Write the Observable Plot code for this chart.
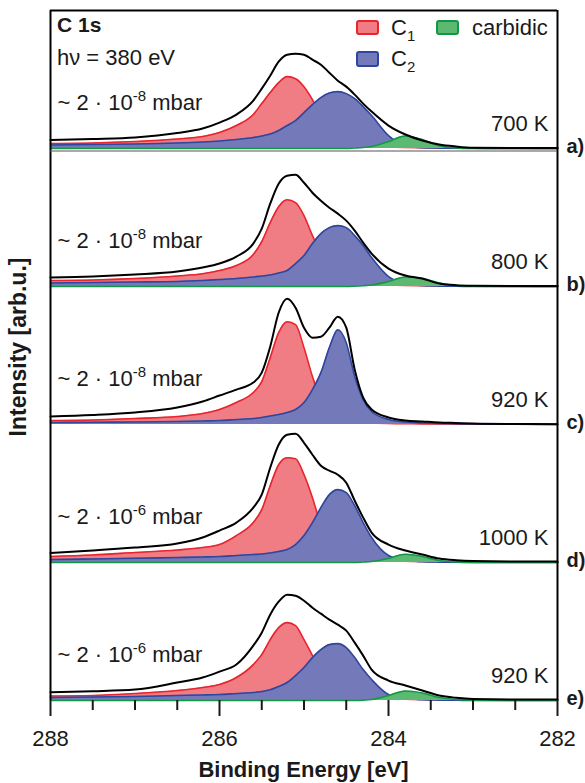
<!DOCTYPE html>
<html><head><meta charset="utf-8">
<script src="https://cdn.jsdelivr.net/npm/d3@7"></script>
<script src="https://cdn.jsdelivr.net/npm/@observablehq/plot@0.6"></script>
<style>
body{margin:0;background:#fff;}
#chart{position:relative;width:585px;height:783px;}
svg text{font-family:"Liberation Sans",Arial,sans-serif;}
</style>
</head><body><div id="chart"></div>
<script>
// ---- data (intensities in arbitrary units) ----
const energy = [288, 287.5, 287, 286.5, 286.2, 286.0, 285.8, 285.6, 285.5, 285.4, 285.3, 285.2, 285.1, 285.0, 284.9, 284.8, 284.7, 284.6, 284.5, 284.4, 284.3, 284.2, 284.0, 283.8, 283.6, 283.4, 283.2, 283.0, 282.5, 282];

const panels = ["a", "b", "c", "d", "e"];
const panelLabels = ["a)", "b)", "c)", "d)", "e)"];
const temperatures = ["700 K", "800 K", "920 K", "1000 K", "920 K"];
const pressures = ["~ 2 · 10^-8 mbar", "~ 2 · 10^-8 mbar", "~ 2 · 10^-8 mbar", "~ 2 · 10^-6 mbar", "~ 2 · 10^-6 mbar"];
const xTicksMajor = [288, 286, 284, 282];
const xTicksMinor = [287.5, 287, 286.5, 285.5, 285, 284.5, 283.5, 283, 282.5];
const legendNames = ["C1", "C2", "carbidic"];

// panel a) 700 K
const totalA = [8.5, 9.5, 11, 15.5, 20, 26, 34, 48, 60, 73, 87, 94, 95, 94, 89, 84, 76, 68, 62, 54, 45, 37, 23, 14, 8, 4, 2, 0.8, 0.5, 0.5];
const c1A    = [5, 5.5, 7, 9.5, 12, 16, 23, 34, 45, 56, 66, 72, 70, 62, 49, 33, 20, 11, 6, 3.5, 2.5, 2, 1.5, 1, 0.8, 0.6, 0.4, 0.3, 0.2, 0.1];
const c2A    = [3.5, 4, 4.5, 5.5, 6.5, 7.5, 9, 11, 12.5, 14.5, 18, 23, 28, 36, 44, 51, 55.5, 57, 55, 50, 42, 33, 13, 3, 0.8, 0.4, 0.2, 0.1, 0, 0];
const carbA  = [0, 0, 0, 0, 0, 0, 0, 0, 0, 0, 0, 0, 0, 0, 0, 0, 0, 0, 0, 0.5, 1, 2, 7, 12.5, 9, 2.8, 0.6, 0.2, 0, 0];

// panel b) 800 K
const totalB = [9, 10, 12, 15, 19, 23, 30, 43, 58, 83, 103, 111, 112, 104, 94, 86, 79, 73, 66, 56, 44, 33, 18, 11, 8, 3, 1.3, 0.8, 0.5, 0.5];
const c1B    = [6, 6.5, 8, 10.5, 12.7, 16, 21, 32, 45, 64, 80, 87, 84, 71, 51, 33, 19, 10, 5, 3, 2.5, 2, 1.5, 1, 0.8, 0.6, 0.4, 0.3, 0.2, 0.1];
const c2B    = [3.5, 4, 4.5, 5, 6, 7, 8, 9.5, 10.5, 11.5, 13.5, 16, 23, 31, 43, 53, 59, 61, 59, 51, 41, 29, 10, 3, 1, 0.4, 0.2, 0.1, 0, 0];
const carbB  = [0, 0, 0, 0, 0, 0, 0, 0, 0, 0, 0, 0, 0, 0, 0, 0, 0, 0, 0, 0.3, 0.8, 1.5, 5, 9.5, 8, 3.5, 1, 0.3, 0, 0];

// panel c) 920 K
const totalC = [8, 9.5, 12, 17, 23, 29, 35, 42, 52, 78, 112, 126, 117, 97, 87, 88, 97, 108, 97, 55, 27, 15, 7, 4, 3, 2, 1.5, 1, 0.5, 0.3];
const c1C    = [4, 4.5, 6, 8, 11, 15, 22, 32, 43, 67, 92, 103, 100, 77, 48, 25, 12, 6, 3, 2, 1.5, 1.3, 1, 0.8, 0.6, 0.5, 0.4, 0.3, 0.2, 0.1];
const c2C    = [2, 2.3, 2.5, 3, 3.5, 4, 5, 6, 7, 8.5, 10, 12, 15, 22, 35, 52, 77, 95, 82, 48, 25, 13, 5, 2.5, 1.5, 1, 0.7, 0.5, 0.3, 0.2];
const carbC  = null; // no carbidic component fitted

// panel d) 1000 K
const totalD = [9.5, 12, 15, 19, 25, 32, 40, 55, 68, 95, 118, 128, 129, 120, 108, 97, 92, 88, 80, 62, 45, 30, 18, 12, 8, 4, 2.3, 1.5, 1, 1];
const c1D    = [6, 7.5, 10, 12.5, 15, 18, 27, 40, 53, 77, 98, 105, 104, 88, 65, 38, 22, 12, 6, 3.5, 2.5, 2, 1.5, 1.2, 1, 0.8, 0.6, 0.5, 0.3, 0.2];
const c2D    = [3, 3.5, 4.2, 5, 5.5, 6, 7, 8, 8.5, 9.5, 11, 13, 18, 27, 40, 55, 68, 73, 70, 57, 40, 25, 7, 2, 0.8, 0.4, 0.2, 0.1, 0, 0];
const carbD  = [0, 0, 0, 0, 0, 0, 0, 0, 0, 0, 0, 0, 0, 0, 0, 0, 0, 0, 0, 0, 0.5, 1, 4, 8.3, 6, 2, 0.5, 0.1, 0, 0];

// panel e) 920 K
const totalE = [8.3, 9.3, 11, 18, 23, 29, 36, 55, 68, 86, 99, 106, 105, 100, 93, 87, 81, 76, 70, 58, 45, 31, 20, 15, 10, 5, 2.7, 1.5, 1, 1];
const c1E    = [4.5, 5, 7, 10, 13, 16, 23, 36, 46, 61, 73, 78, 75, 61, 45, 29, 17, 9, 5, 3, 2.5, 2, 1.5, 1.2, 1, 0.8, 0.6, 0.5, 0.3, 0.2];
const c2E    = [3, 3.5, 4, 5, 5.5, 6, 7, 8, 9, 10.7, 14, 18, 25, 33, 43, 51, 56, 57, 53, 43, 31, 21, 6, 2, 0.8, 0.4, 0.2, 0.1, 0, 0];
const carbE  = [0, 0, 0, 0, 0, 0, 0, 0, 0, 0, 0, 0, 0, 0, 0, 0, 0, 0, 0, 0, 0.3, 1, 5, 9.5, 7.5, 3, 1, 0.3, 0, 0];

// ---- build tables ----
const totals = [totalA, totalB, totalC, totalD, totalE];
const c1s = [c1A, c1B, c1C, c1D, c1E];
const c2s = [c2A, c2B, c2C, c2D, c2E];
const carbs = [carbA, carbB, carbC, carbD, carbE];

const rows = panels.flatMap((p, i) => energy.map((E, j) => ({
  panel: p, E,
  total: totals[i][j], c1: c1s[i][j], c2: c2s[i][j],
  carb: carbs[i] ? carbs[i][j] : null
})));
const carbRows = rows.filter(d => d.carb !== null);
const labelRows = panels.map((p, i) => ({panel: p, label: panelLabels[i], temp: temperatures[i], pressure: pressures[i]}));

const W = 585, H = 783, mTop = 9, mBottom = 82.5, mLeft = 50, mRight = 28;
const yMax = (H - mTop - mBottom) / panels.length;

const col = {
  c1Fill: "#f07c84", c1Stroke: "#e8242c",
  c2Fill: "#7479b9", c2Stroke: "#2f469d",
  cbFill: "#5bb971", cbStroke: "#129747"
};
const curve = "monotone-x";

const chart = Plot.plot({
  width: W, height: H,
  marginTop: mTop, marginBottom: mBottom, marginLeft: mLeft, marginRight: mRight,
  style: {fontFamily: "'Liberation Sans', Arial, sans-serif", color: "#1a1a1a", background: "white"},
  x: {domain: [288, 282]},
  y: {domain: [0, yMax], axis: null},
  fy: {domain: panels, padding: 0, axis: null},
  marks: [
    Plot.areaY(rows, {x: "E", y: "c1", fy: "panel", fill: col.c1Fill, curve}),
    Plot.lineY(rows, {x: "E", y: "c1", fy: "panel", stroke: col.c1Stroke, strokeWidth: 1.6, curve}),
    Plot.areaY(rows, {x: "E", y: "c2", fy: "panel", fill: col.c2Fill, curve}),
    Plot.lineY(rows, {x: "E", y: "c2", fy: "panel", stroke: col.c2Stroke, strokeWidth: 1.6, curve}),
    Plot.areaY(carbRows, {x: "E", y: "carb", fy: "panel", fill: col.cbFill, curve}),
    Plot.lineY(carbRows, {x: "E", y: "carb", fy: "panel", stroke: col.cbStroke, strokeWidth: 1.6, curve}),
    Plot.lineY(rows, {x: "E", y: "total", fy: "panel", stroke: "black", strokeWidth: 2, curve}),
    // frame
    Plot.ruleX([288, 282], {stroke: "black", strokeWidth: 2}),
    Plot.ruleY(labelRows, {fy: "panel", y: yMax, filter: d => d.panel === "a", stroke: "black", strokeWidth: 2}),
    Plot.ruleY(labelRows, {fy: "panel", y: 0, dy: 2.5, filter: d => d.panel === "a", stroke: "#555", strokeWidth: 1.2}),
    // texts
    Plot.text(labelRows, {fy: "panel", text: "pressure", frameAnchor: "bottom-left", dx: 7, dy: -38.5, textAnchor: "start", fontSize: 22}),
    Plot.text(labelRows, {fy: "panel", text: "temp", frameAnchor: "bottom-right", dx: -9, dy: -18, textAnchor: "end", fontSize: 22}),
    Plot.text(labelRows, {fy: "panel", text: "label", frameAnchor: "bottom-right", dx: 9, dy: 4, textAnchor: "start", fontSize: 20, fontWeight: "bold"}),
    // axes
    Plot.axisX(xTicksMinor, {anchor: "bottom", tickSize: 10, tickFormat: () => "", strokeWidth: 2, label: null}),
    Plot.axisX(xTicksMajor, {anchor: "bottom", tickSize: 16, tickPadding: 14, fontSize: 22, tickFormat: d => String(d), strokeWidth: 2, label: null})
  ]
});

document.getElementById("chart").appendChild(chart);
const svg = chart.tagName.toLowerCase() === "svg" ? chart : chart.querySelector("svg");
const NS = "http://www.w3.org/2000/svg";

// superscripts in pressure labels
svg.querySelectorAll("text").forEach(t => {
  const s = t.textContent;
  if (s.includes("^") && t.children.length === 0) {
    const m = s.match(/^(.*?)\^(\S+)(.*)$/);
    t.textContent = "";
    const a = document.createElementNS(NS, "tspan"); a.textContent = m[1];
    const b = document.createElementNS(NS, "tspan"); b.textContent = m[2];
    b.setAttribute("font-size", "15"); b.setAttribute("dy", "-9");
    const c = document.createElementNS(NS, "tspan"); c.textContent = m[3]; c.setAttribute("dy", "9");
    t.append(a, b, c);
  }
});

function addText(parent, str, attrs, subs) {
  const t = document.createElementNS(NS, "text");
  t.setAttribute("text-anchor", "start");
  for (const k in attrs) t.setAttribute(k, attrs[k]);
  t.textContent = str;
  if (subs) {
    const s = document.createElementNS(NS, "tspan");
    s.textContent = subs; s.setAttribute("font-size", "15"); s.setAttribute("dy", "6");
    t.appendChild(s);
  }
  parent.appendChild(t);
  return t;
}
function addRect(parent, attrs) {
  const r = document.createElementNS(NS, "rect");
  for (const k in attrs) r.setAttribute(k, attrs[k]);
  parent.appendChild(r);
}
const g = document.createElementNS(NS, "g");
g.setAttribute("fill", "#1a1a1a");
g.setAttribute("text-anchor", "start");
svg.appendChild(g);

addText(g, "C 1s", {x: 57, y: 32, "font-size": 21, "font-weight": "bold"});
addText(g, "hν = 380 eV", {x: 57, y: 65, "font-size": 22});

// legend
addRect(g, {x: 357, y: 21, width: 21, height: 13, rx: 2, fill: col.c1Fill, stroke: col.c1Stroke, "stroke-width": 2});
addText(g, "C", {x: 391, y: 35, "font-size": 22}, "1");
addRect(g, {x: 437, y: 21, width: 21, height: 13, rx: 2, fill: col.cbFill, stroke: col.cbStroke, "stroke-width": 2});
addText(g, legendNames[2], {x: 472, y: 35, "font-size": 22});
addRect(g, {x: 357, y: 52, width: 21, height: 14, rx: 2, fill: col.c2Fill, stroke: col.c2Stroke, "stroke-width": 2});
addText(g, "C", {x: 391, y: 66, "font-size": 22}, "2");

// axis titles
addText(g, "Binding Energy [eV]", {x: (mLeft + W - mRight) / 2, y: 777, "font-size": 22, "font-weight": "bold", "text-anchor": "middle"});
addText(g, "Intensity [arb.u.]", {transform: "translate(26,347) rotate(-90)", "font-size": 23, "font-weight": "bold", "text-anchor": "middle"});
</script>
</body></html>
